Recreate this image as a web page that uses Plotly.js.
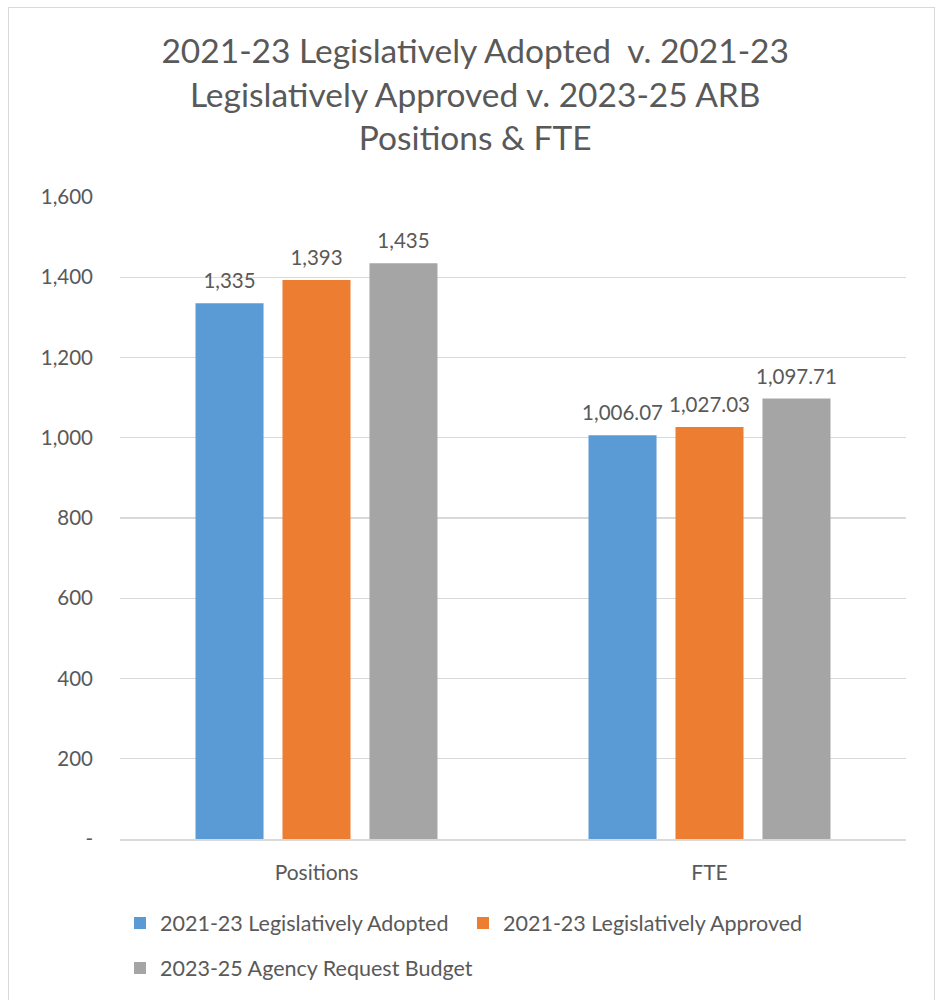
<!DOCTYPE html>
<html>
<head>
<meta charset="utf-8">
<script src="https://cdn.plot.ly/plotly-3.0.1.min.js"></script>
<style>
  html, body { margin: 0; padding: 0; background: #fff; }
  #chart { position: absolute; left: 0; top: 0; width: 941px; height: 1000px; }
  #frame { position: absolute; left: 8px; top: 7px; width: 927px; height: 1000px; border: 1px solid #D9D9D9; box-sizing: border-box; pointer-events: none; }
</style>
</head>
<body>
<div id="chart"></div>
<div id="frame"></div>
<script>
const categories = ["Positions", "FTE"];
const seriesNames = ["2021-23 Legislatively Adopted", "2021-23 Legislatively Approved", "2023-25 Agency Request Budget"];
const adopted = [1335, 1006.07];
const approved = [1393, 1027.03];
const requestBudget = [1435, 1097.71];
const yTickVals = [0, 200, 400, 600, 800, 1000, 1200, 1400, 1600];
const yTickText = ["-", "200", "400", "600", "800", "1,000", "1,200", "1,400", "1,600"];
const colors = ["#5B9BD5", "#ED7D31", "#A5A5A5"];

const FONT = "Lato, 'Open Sans', sans-serif";
const TXT = "#595959";

const seriesData = [adopted, approved, requestBudget];
const barTraces = seriesData.map((vals, i) => ({
  type: "bar",
  name: seriesNames[i],
  x: categories,
  y: vals,
  marker: { color: colors[i] },
  offsetgroup: "g" + i,
  legend: i < 2 ? "legend" : "legend2",
  hoverinfo: "skip"
}));
const labelTraces = seriesData.map((vals, i) => ({
  type: "scatter",
  mode: "markers+text",
  x: categories,
  y: vals,
  offsetgroup: "g" + i,
  marker: { size: 14, color: "rgba(0,0,0,0)" },
  texttemplate: "%{y:,}",
  textposition: "top center",
  textfont: { family: FONT, size: 20.5, color: TXT },
  cliponaxis: false,
  showlegend: false,
  hoverinfo: "skip"
}));

const layout = {
  width: 941,
  height: 1000,
  margin: { l: 120, r: 35, t: 197, b: 161, autoexpand: false },
  paper_bgcolor: "#fff",
  plot_bgcolor: "#fff",
  font: { family: FONT, color: TXT },
  title: {
    text: "2021-23 Legislatively Adopted  v. 2021-23<br>Legislatively Approved v. 2023-25 ARB<br>Positions & FTE",
    font: { family: FONT, size: 33.5, color: TXT },
    xref: "container", x: 0.505, xanchor: "center",
    yref: "container", y: 0.937, yanchor: "top"
  },
  barmode: "group",
  scattermode: "group",
  bargap: 0.336,
  scattergap: 0.336,
  bargroupgap: 0.218,
  xaxis: {
    type: "category",
    tickfont: { family: FONT, size: 21, color: TXT },
    showgrid: false,
    showline: true,
    linecolor: "#D9D9D9",
    linewidth: 1.5,
    ticks: "",
    ticklabelstandoff: 14,
    fixedrange: true
  },
  yaxis: {
    range: [0, 1600],
    tickvals: yTickVals,
    ticktext: yTickText,
    tickfont: { family: FONT, size: 20.5, color: TXT },
    showgrid: true,
    gridcolor: "#D9D9D9",
    gridwidth: 1.3,
    zeroline: false,
    showline: false,
    ticks: "",
    ticklabelstandoff: 26,
    fixedrange: true
  },
  showlegend: true,
  legend: {
    orientation: "h",
    x: 0, xanchor: "left",
    y: -0.131, yanchor: "middle",
    font: { family: FONT, size: 21.5, color: TXT },
    entrywidth: 298,
    entrywidthmode: "pixels",
    itemwidth: 20,
    bgcolor: "rgba(0,0,0,0)"
  },
  legend2: {
    orientation: "h",
    x: 0, xanchor: "left",
    y: -0.201, yanchor: "middle",
    font: { family: FONT, size: 21.5, color: TXT },
    itemwidth: 20,
    bgcolor: "rgba(0,0,0,0)"
  }
};

Plotly.newPlot("chart", barTraces.concat(labelTraces), layout, { displayModeBar: false, staticPlot: true });
</script>
</body>
</html>
